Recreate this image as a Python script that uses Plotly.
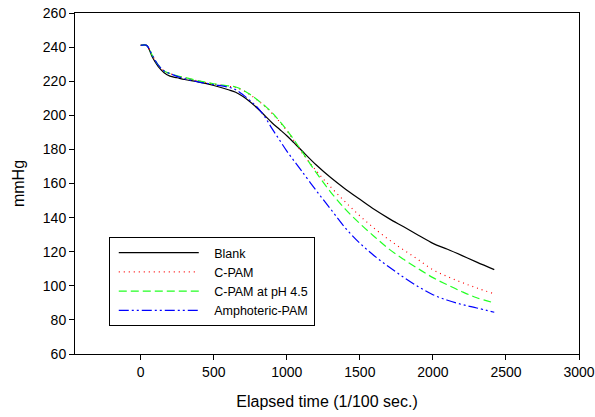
import plotly.graph_objects as go

# elapsed time (1/100 sec.)
time = [0, 40, 80, 120, 160, 200, 250, 300, 400, 500, 600, 650, 700, 750, 800, 850,
        900, 950, 1000, 1050, 1100, 1200, 1300, 1400, 1500, 1600, 1700, 1800, 1900,
        2000, 2100, 2200, 2300, 2420]

blank = [241, 241, 234, 228.5, 225, 223, 222, 221, 219.5, 217.5, 215, 213.5, 211, 207.8,
         204, 199.8, 195.5, 191.8, 188, 183.8, 179.5, 171, 163.5, 156.8, 150.7, 144.7,
         139.4, 134.6, 129.7, 124.9, 121.4, 117.7, 113.9, 109.5]

cpam = [241, 241, 235, 229.5, 226, 224.5, 223, 222, 220, 218.3, 217, 216.3, 214.5, 212,
        208.8, 205.3, 201, 196.3, 191, 185, 178.5, 167.6, 158, 149.2, 141, 133.6, 127,
        121, 115.3, 109.4, 105.4, 101.9, 98.7, 95.3]

cpam_ph45 = [241, 241, 235, 229.5, 226, 224.5, 223.2, 222.2, 220.2, 218.5, 217.3, 216.6,
             214.8, 212.2, 209, 205.5, 201.5, 196.6, 191.3, 185.5, 179.2, 166.5, 155, 145,
             136.5, 128.8, 121.5, 115.5, 110, 104.8, 100.5, 96.5, 93, 90]

amphoteric = [241, 241, 235, 229.5, 226, 224.5, 222.8, 221.5, 219.5, 218, 216.5, 215, 212,
              208.5, 204.5, 199, 192, 185.5, 179, 173.2, 167.5, 156, 145, 134, 125, 117.5,
              111, 105, 99.5, 94.8, 91.5, 89, 87, 84.5]

labels = ['Blank', 'C-PAM', 'C-PAM at pH 4.5', 'Amphoteric-PAM']

series = [
    (labels[0], blank, 'black', 'solid'),
    (labels[1], cpam, 'red', '1px,4px'),
    (labels[2], cpam_ph45, '#22ff22', '8px,4px'),
    (labels[3], amphoteric, 'blue', '10px,3px,2px,3px,2px,3px'),
]

fig = go.Figure()
for name, vals, color, dash in series:
    fig.add_trace(go.Scatter(
        x=time, y=vals, mode='lines',
        name='\u00a0\u00a0\u00a0' + name,  # little gap between sample line and text
        line=dict(color=color, width=1.2, dash=dash, shape='spline'),
    ))

axis_style = dict(
    showline=True, linecolor='black', linewidth=1, mirror=True, automargin=False,
    ticks='outside', ticklen=5, tickcolor='black', showgrid=False, zeroline=False,
    tickfont=dict(size=14, color='black'),
)

fig.update_layout(
    width=595, height=417,
    margin=dict(l=75, r=16, t=13, b=63),
    paper_bgcolor='white', plot_bgcolor='white',
    font=dict(family='Liberation Sans, Arial, sans-serif', color='black'),
    xaxis=dict(range=[-450, 3000], tickvals=[0, 500, 1000, 1500, 2000, 2500, 3000],
               title=dict(text='Elapsed time (1/100 sec.)', font=dict(size=16), standoff=17),
               **axis_style),
    yaxis=dict(range=[60, 260], dtick=20,
               title=dict(text='mmHg', font=dict(size=16), standoff=14),
               **axis_style),
    legend=dict(x=0.067, y=0.343, xanchor='left', yanchor='top',
                bordercolor='black', borderwidth=1, bgcolor='white',
                font=dict(size=12.5), itemwidth=80, indentation=4, tracegroupgap=0),
    showlegend=True,
)

fig.write_html("out.html", config={'displayModeBar': False},
               post_script="document.body.style.margin='0';")
